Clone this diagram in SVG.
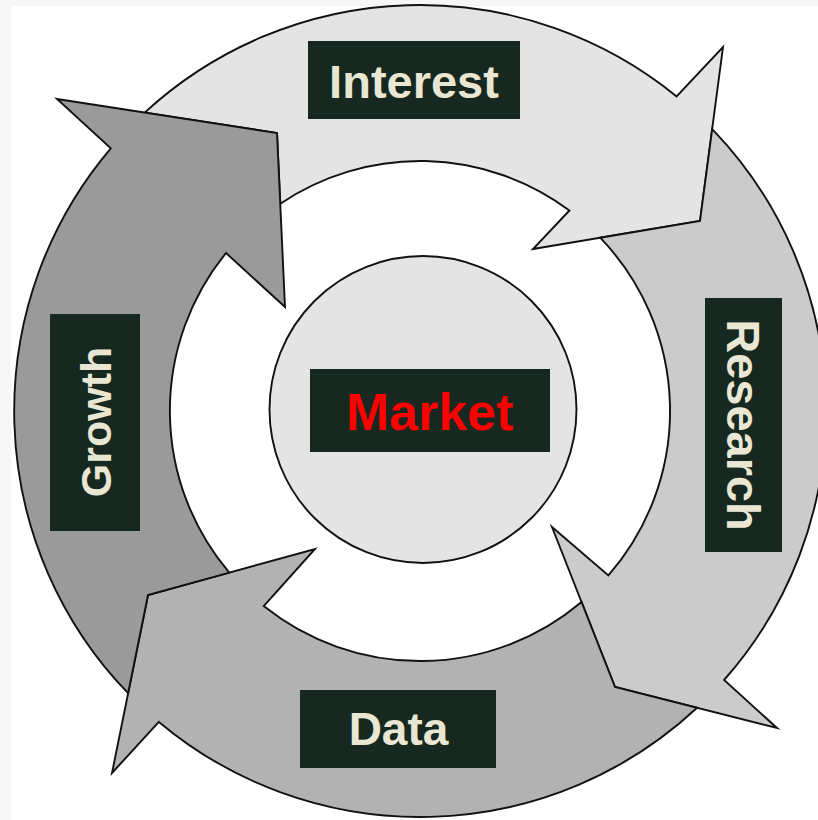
<svg xmlns="http://www.w3.org/2000/svg" width="818" height="820" viewBox="0 0 818 820">
<style>
.arrow{stroke:#111;stroke-width:1.9;stroke-linejoin:miter;stroke-miterlimit:10}
.box{fill:#16281f}
.lbl{font-family:"Liberation Sans",Arial,Helvetica,sans-serif;font-weight:bold;fill:#e9e7d4;text-anchor:middle}
</style>
<rect x="0" y="0" width="818" height="820" fill="#f6f6f6"/>
<rect x="11" y="6" width="807" height="814" fill="#ffffff"/>
<g id="connectors">
<path id="arrow-interest" class="arrow" fill="#e4e4e4" d="M144.7,112.6 A406,406 0 0 1 676.6,96.4 L723,47 L700,221 L533,249 L569.4,210.5 A250,250 0 0 0 280.3,203.7 L277,133 Z"/>
<path id="arrow-research" class="arrow" fill="#cbcbcb" d="M712.2,129.1 A406,406 0 0 1 724.1,680 L777,728 L615,687 L552,527 L608.4,575.4 A250,250 0 0 0 600.2,237.7 L700,221 Z"/>
<path id="arrow-data" class="arrow" fill="#b2b2b2" d="M697.1,707.8 A406,406 0 0 1 158.9,721.9 L112,773 L148,595 L315,549 L263.7,606.1 A250,250 0 0 0 581.5,601.9 L615,687 Z"/>
<path id="arrow-growth" class="arrow" fill="#9a9a9a" d="M128.1,693.2 A406,406 0 0 1 110.8,148.3 L57,99 L277,133 L285,307 L226,253 A250,250 0 0 0 229.3,572.6 L148,595 Z"/>
</g>
<g id="market">
<circle cx="423" cy="409.5" r="153.5" fill="#e4e4e4" stroke="#111" stroke-width="1.9"/>
<rect class="box" x="310" y="369" width="240" height="83"/>
<text class="lbl" x="430" y="430" font-size="52" style="fill:#ff0000">Market</text>
</g>
<g id="interest">
<rect class="box" x="308" y="41" width="212" height="78"/>
<text class="lbl" x="414" y="98" font-size="47">Interest</text>
</g>
<g id="research">
<rect class="box" x="705" y="298" width="77" height="254"/>
<text class="lbl" transform="translate(743.5,425) rotate(90)" x="0" y="17" font-size="47">Research</text>
</g>
<g id="data">
<rect class="box" x="300" y="690" width="196" height="78"/>
<text class="lbl" x="398.5" y="745" font-size="46">Data</text>
</g>
<g id="growth">
<rect class="box" x="50" y="314" width="90" height="217"/>
<text class="lbl" transform="translate(95,422) rotate(-90)" x="0" y="15.5" font-size="43">Growth</text>
</g>
</svg>
